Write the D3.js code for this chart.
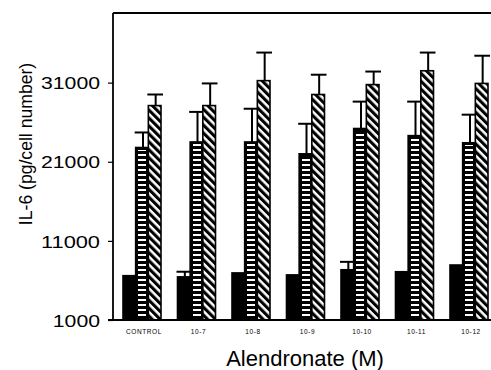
<!DOCTYPE html>
<html>
<head>
<meta charset="utf-8">
<script src="https://cdn.jsdelivr.net/npm/d3@7"></script>
<style>
  body { margin: 0; background: #fff; }
  text { font-family: "Liberation Sans", Arial, Helvetica, sans-serif; fill: #000; }
</style>
</head>
<body>
<div class="chart"></div>
<script>
// chart data
var categories = ["CONTROL", "10-7", "10-8", "10-9", "10-10", "10-11", "10-12"];
var solidValues   = [6600, 6450, 6950, 6700, 7350, 7100, 7950];
var solidErrors   = [0, 650, 0, 0, 1000, 0, 0];
var hstripeValues = [22800, 23500, 23500, 22000, 25200, 24300, 23400];
var hstripeErrors = [1900, 3800, 4200, 3800, 3400, 4300, 3550];
var diagValues    = [28100, 28100, 31250, 29500, 30750, 32500, 30900];
var diagErrors    = [1400, 2800, 3550, 2500, 1650, 2300, 3500];
var yTicks = [1000, 11000, 21000, 31000];

var svgWidth = 491;
var svgHeight = 370;
var margin = {top: 13, right: -6, bottom: 50, left: 113};

var chartWidth = svgWidth - margin.left - margin.right;
var chartHeight = svgHeight - margin.top - margin.bottom;

var svg = d3.select(".chart")
  .append("svg")
  .attr("width", svgWidth)
  .attr("height", svgHeight);

// patterns for the two hatched series
var defs = svg.append("defs");

var hp = defs.append("pattern")
  .attr("id", "hstripe")
  .attr("patternUnits", "userSpaceOnUse")
  .attr("width", 10)
  .attr("height", 5);
hp.append("rect").attr("width", 10).attr("height", 5).attr("fill", "#000");
hp.append("rect").attr("y", 1).attr("width", 10).attr("height", 2).attr("fill", "#fff")
  .attr("shape-rendering", "crispEdges");

var dp = defs.append("pattern")
  .attr("id", "diag")
  .attr("patternUnits", "userSpaceOnUse")
  .attr("width", 5.6)
  .attr("height", 10)
  .attr("patternTransform", "rotate(-45)");
dp.append("rect").attr("width", 5.6).attr("height", 10).attr("fill", "#fff");
dp.append("rect").attr("width", 3.1).attr("height", 10).attr("fill", "#000");

var chart = svg.append("g")
  .attr("transform", `translate(${margin.left},${margin.top})`);

// scales: groups every 54.5 px, first one 10 px right of the axis
var xScale = d3.scaleBand()
  .domain(categories)
  .range([10, 10 + (categories.length - 1) * 54.5 + 38])
  .paddingInner(16.5 / 54.5)
  .paddingOuter(0);

var series = [
  {key: "solid", values: solidValues, errors: solidErrors},
  {key: "hstripe", values: hstripeValues, errors: hstripeErrors},
  {key: "diag", values: diagValues, errors: diagErrors}
];

var xSub = d3.scaleBand()
  .domain(series.map(function(s) { return s.key; }))
  .range([0, xScale.bandwidth()]);

var yScale = d3.scaleLinear()
  .domain([1000, 39800])
  .range([chartHeight, 0]);

var rows = [];
categories.forEach(function(c, i) {
  series.forEach(function(s) {
    rows.push({cat: c, key: s.key, value: s.values[i], err: s.errors[i]});
  });
});

// bars
var bars = chart.selectAll("g.bar")
  .data(rows)
  .enter()
  .append("g")
  .attr("class", "bar");

bars.append("rect")
  .attr("x", function(d) { return xScale(d.cat) + xSub(d.key); })
  .attr("y", function(d) { return yScale(d.value); })
  .attr("width", xSub.bandwidth())
  .attr("height", function(d) { return chartHeight - yScale(d.value); })
  .attr("fill", function(d) {
    if (d.key === "diag") return "url(#diag)";
    return "#000";
  })
  .attr("stroke", "#000")
  .attr("stroke-width", 1.6);

// white dashes inside the horizontal striped bars
bars.filter(function(d) { return d.key === "hstripe"; })
  .append("rect")
  .attr("x", function(d) { return Math.round(xScale(d.cat) + xSub(d.key) + 2.5); })
  .attr("y", function(d) { return Math.round(yScale(d.value) + 2); })
  .attr("width", Math.round(xSub.bandwidth() - 5))
  .attr("height", function(d) { return Math.round(chartHeight - yScale(d.value) - 4); })
  .attr("fill", "url(#hstripe)");

// error bars
var errs = bars.filter(function(d) { return d.err > 0; });
errs.append("line")
  .attr("x1", function(d) { return xScale(d.cat) + xSub(d.key) + xSub.bandwidth() / 2 + 1; })
  .attr("x2", function(d) { return xScale(d.cat) + xSub(d.key) + xSub.bandwidth() / 2 + 1; })
  .attr("y1", function(d) { return yScale(d.value); })
  .attr("y2", function(d) { return yScale(d.value + d.err); })
  .attr("stroke", "#000")
  .attr("stroke-width", 2);
errs.append("line")
  .attr("x1", function(d) { return xScale(d.cat) + xSub(d.key) - 1; })
  .attr("x2", function(d) { return xScale(d.cat) + xSub(d.key) + xSub.bandwidth() + 2; })
  .attr("y1", function(d) { return yScale(d.value + d.err); })
  .attr("y2", function(d) { return yScale(d.value + d.err); })
  .attr("stroke", "#000")
  .attr("stroke-width", 2);

// left axis
var leftAxis = d3.axisLeft(yScale)
  .tickValues(yTicks)
  .tickSize(5)
  .tickPadding(8)
  .tickFormat(d3.format("d"));

var yAxisG = chart.append("g").call(leftAxis);
yAxisG.select(".domain").attr("stroke-width", 1.8).attr("d", "M0," + chartHeight + "V0");
yAxisG.selectAll(".tick line").attr("stroke-width", 1.2);
yAxisG.selectAll(".tick text")
  .attr("font-size", 17)
  .attr("dy", "0.36em")
  .attr("x", -13)
  .attr("textLength", function(d) { return String(d).length * 11.8; })
  .attr("lengthAdjust", "spacingAndGlyphs");

// bottom axis line and top frame line
chart.append("line")
  .attr("x1", -5).attr("x2", chartWidth)
  .attr("y1", chartHeight).attr("y2", chartHeight)
  .attr("stroke", "#000").attr("stroke-width", 1.8);
chart.append("line")
  .attr("x1", 0).attr("x2", chartWidth)
  .attr("y1", 0).attr("y2", 0)
  .attr("stroke", "#000").attr("stroke-width", 2);

// category labels
chart.selectAll("text.cat")
  .data(categories)
  .enter()
  .append("text")
  .attr("class", "cat")
  .attr("x", function(d) { return xScale(d) + xScale.bandwidth() / 2 + 2; })
  .attr("y", chartHeight + 14)
  .attr("text-anchor", "middle")
  .attr("font-size", 6.5)
  .attr("letter-spacing", 0.6)
  .text(function(d) { return d; });

// axis titles
svg.append("text")
  .attr("transform", "translate(32,144) rotate(-90)")
  .attr("text-anchor", "middle")
  .attr("font-size", 17.6)
  .text("IL-6 (pg/cell number)");

svg.append("text")
  .attr("x", 305)
  .attr("y", 366)
  .attr("text-anchor", "middle")
  .attr("font-size", 22)
  .text("Alendronate (M)");
</script>
</body>
</html>
